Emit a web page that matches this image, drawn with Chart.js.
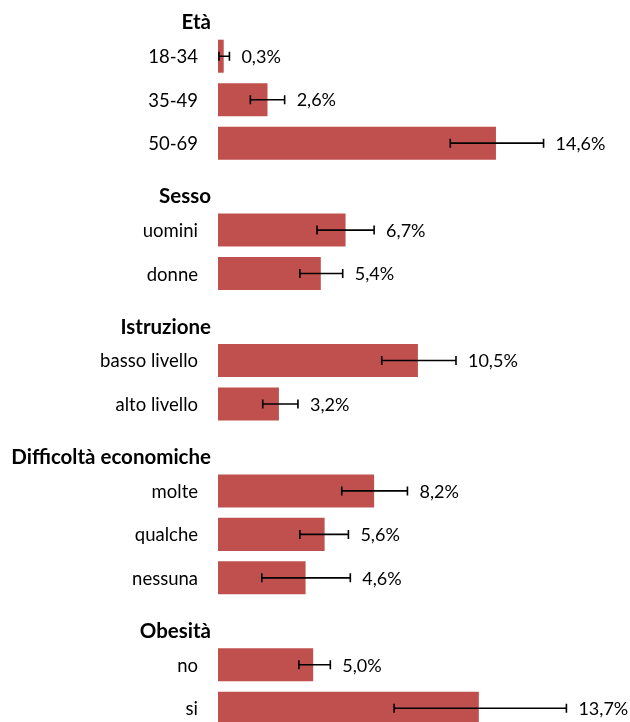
<!DOCTYPE html>
<html>
<head>
<meta charset="utf-8">
<script src="https://cdn.jsdelivr.net/npm/chart.js@4"></script>
<style>
  html, body { margin: 0; padding: 0; background: #fff; overflow: hidden; }
  #wrap { position: absolute; left: 0; top: -9px; width: 630px; height: 739px; }
</style>
</head>
<body>
<div id="wrap"><canvas id="c"></canvas></div>
<script>
const categories = ['Età','18-34','35-49','50-69','Sesso','uomini','donne','Istruzione','basso livello','alto livello','Difficoltà economiche','molte','qualche','nessuna','Obesità','no','si'];
const isHeader   = [true,false,false,false,true,false,false,true,false,false,true,false,false,false,true,false,false];
const values     = [null,0.3,2.6,14.6,null,6.7,5.4,null,10.5,3.2,null,8.2,5.6,4.6,null,5.0,13.7];
const lowerCI    = [null,0.05,1.7,12.2,null,5.2,4.3,null,8.6,2.35,null,6.5,4.3,2.3,null,4.25,9.25];
const upperCI    = [null,0.6,3.5,17.1,null,8.2,6.55,null,12.5,4.2,null,9.95,6.85,6.95,null,5.9,18.3];

const FONT = 'Lato, "Open Sans", sans-serif';

const overlay = {
  id: 'overlay',
  afterDatasetsDraw(chart) {
    const ctx = chart.ctx;
    const xs = chart.scales.x, ys = chart.scales.y;
    ctx.save();
    // error bars + value labels
    for (let i = 0; i < categories.length; i++) {
      if (values[i] == null) continue;
      const y = ys.getPixelForValue(i);
      const x0 = xs.getPixelForValue(lowerCI[i]);
      const x1 = xs.getPixelForValue(upperCI[i]);
      ctx.strokeStyle = '#000';
      ctx.lineWidth = 1.6;
      ctx.beginPath();
      ctx.moveTo(x0, y); ctx.lineTo(x1, y);
      ctx.moveTo(x0, y - 4.5); ctx.lineTo(x0, y + 4.5);
      ctx.moveTo(x1, y - 4.5); ctx.lineTo(x1, y + 4.5);
      ctx.stroke();
      ctx.fillStyle = '#000';
      ctx.font = '18px ' + FONT;
      ctx.textAlign = 'left';
      ctx.textBaseline = 'middle';
      ctx.fillText(values[i].toFixed(1).replace('.', ',') + '%', x1 + 12, y + 1);
    }
    // category labels
    const left = chart.chartArea.left;
    for (let i = 0; i < categories.length; i++) {
      const y = ys.getPixelForValue(i);
      ctx.textAlign = 'right';
      ctx.textBaseline = 'middle';
      ctx.fillStyle = '#000';
      if (isHeader[i]) {
        ctx.font = 'bold 20.5px ' + FONT;
        ctx.fillText(categories[i], left - 7, y + 10);
      } else {
        ctx.font = '18.5px ' + FONT;
        ctx.fillText(categories[i], left - 20, y + 1);
      }
    }
    ctx.restore();
  }
};

new Chart(document.getElementById('c'), {
  type: 'bar',
  data: {
    labels: categories,
    datasets: [{
      data: values,
      backgroundColor: '#C0504D',
      borderWidth: 0,
      categoryPercentage: 0.76,
      barPercentage: 1
    }]
  },
  options: {
    indexAxis: 'y',
    responsive: true,
    maintainAspectRatio: false,
    animation: false,
    layout: { padding: { left: 218, right: 0, top: 0, bottom: 0 } },
    plugins: { legend: { display: false }, tooltip: { enabled: false } },
    scales: {
      x: { display: false, min: 0, max: 21.64 },
      y: { display: false, offset: true }
    }
  },
  plugins: [overlay]
});
</script>
</body>
</html>
